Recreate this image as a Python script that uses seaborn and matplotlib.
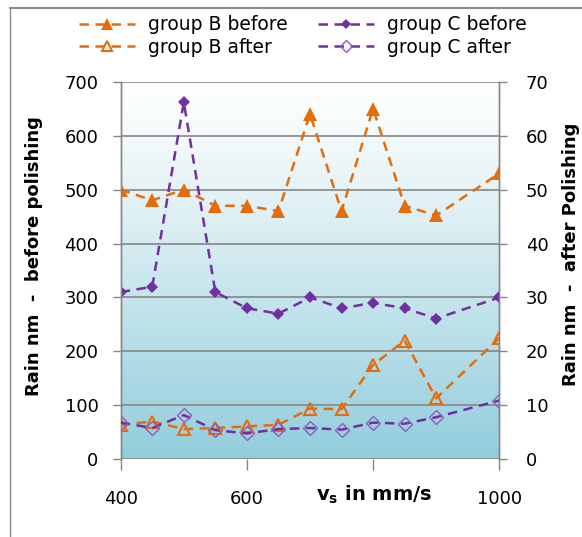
import numpy as np
import matplotlib
matplotlib.use("Agg")
import matplotlib.pyplot as plt
import seaborn as sns
from matplotlib.lines import Line2D
from matplotlib.colors import to_rgb

sns.set_style("white")
plt.rcParams['font.family'] = ['DejaVu Sans']
plt.rcParams['mathtext.fontset'] = 'dejavusans'
plt.rcParams['text.color'] = 'black'

# ---- data ----
vs = [400, 450, 500, 550, 600, 650, 700, 750, 800, 850, 900, 1000]
b_before = [500, 480, 500, 470, 470, 460, 640, 460, 650, 470, 452, 530]
c_before = [310, 320, 662, 310, 280, 270, 300, 280, 290, 280, 261, 300]
b_after = [6.4, 7.0, 5.6, 5.8, 6.1, 6.4, 9.4, 9.3, 17.5, 22.0, 11.3, 22.5]
c_after = [6.8, 5.8, 8.2, 5.4, 4.8, 5.6, 5.8, 5.5, 6.8, 6.6, 7.8, 10.9]
xticks = [400, 600, 800, 1000]
xtick_labels = ['400', '600', '', '1000']
yticks_left = [0, 100, 200, 300, 400, 500, 600, 700]
yticks_right = [0, 10, 20, 30, 40, 50, 60, 70]
labels = ['group B before', 'group B after', 'group C before', 'group C after']

orange = '#E46C0A'
purple = '#7030A0'
gridc = '#868686'

W, H = 582, 537
fig = plt.figure(figsize=(W / 100, H / 100), dpi=100)
L, R, T, B = 120.7, 499.3, 81.7, 459.3
ax = fig.add_axes([L / W, 1 - B / H, (R - L) / W, (B - T) / H])
ax2 = ax.twinx()

# background gradient
top = np.array(to_rgb('#FFFFFF'))
bot = np.array(to_rgb('#92CDDC'))
t = (np.linspace(0, 1, 256) ** 1.15)[:, None]
grad = (top * (1 - t) + bot * t)[:, None, :]
ax.imshow(grad, extent=[400, 1000, 0, 700], aspect='auto', zorder=0, interpolation='bilinear')

lw = 1.8
dash = (3.8, 2.6)
sns.lineplot(x=vs, y=b_before, ax=ax, color=orange, marker='^', markersize=10,
             markeredgewidth=0, linestyle='--', lw=lw, label=labels[0], zorder=3)
sns.lineplot(x=vs, y=c_before, ax=ax, color=purple, marker='D', markersize=6.5,
             markeredgewidth=0, linestyle='--', lw=lw, label=labels[2], zorder=3)
sns.lineplot(x=vs, y=b_after, ax=ax2, color=orange, marker='^', markersize=9,
             markerfacecolor='none', markeredgecolor=orange, markeredgewidth=1.5,
             linestyle='--', lw=lw, label=labels[1], zorder=3)
sns.lineplot(x=vs, y=c_after, ax=ax2, color=purple, marker='D', markersize=7.5,
             markerfacecolor='none', markeredgecolor='#8E5CC0', markeredgewidth=1.0,
             linestyle='--', lw=lw, label=labels[3], zorder=3)
for a in (ax, ax2):
    for ln in a.lines:
        ln.set_dashes(dash)
    if a.get_legend() is not None:
        a.get_legend().remove()

ax.set_xlim(400, 1000)
ax.set_ylim(0, 700)
ax2.set_ylim(0, 70)
ax.set_xticks(xticks)
ax.set_xticklabels(xtick_labels)
ax.set_yticks(yticks_left)
ax2.set_yticks(yticks_right)
ax.set_xlabel('')
ax.set_ylabel('')
ax2.set_ylabel('')

ax.set_axisbelow(True)
ax.yaxis.grid(True, color=gridc, lw=1.2)
ax.xaxis.grid(False)
ax2.grid(False)

for a in (ax, ax2):
    for s in ('top', 'bottom'):
        a.spines[s].set_visible(False)
    a.spines['left'].set_color(gridc)
    a.spines['right'].set_color(gridc)
    a.spines['left'].set_linewidth(1.0)
    a.spines['right'].set_linewidth(1.0)

ax.tick_params(axis='y', which='both', left=True, length=6, color=gridc, width=1.0,
               labelsize=13, pad=10, labelcolor='black')
ax.tick_params(axis='x', bottom=True, length=8, color=gridc, width=1.0,
               labelsize=13, pad=14, labelcolor='black')
ax2.tick_params(axis='y', right=True, length=6, color=gridc, width=1.0,
                labelsize=13, pad=13, labelcolor='black')

# axis titles
fig.text(34 / W, 1 - 256 / H, 'Rain nm  -  before polishing', rotation=90,
         ha='center', va='center', fontsize=13, fontweight='bold', color='black')
fig.text(571 / W, 1 - 254 / H, 'Rain nm  -  after Polishing', rotation=90,
         ha='center', va='center', fontsize=13, fontweight='bold', color='black')
fig.text(374 / W, 1 - 495 / H, r'$\mathbf{v}_\mathbf{s}$ in mm/s',
         ha='center', va='center', fontsize=14, fontweight='bold', color='black')

# legend
handles = [ax.lines[0], ax2.lines[0], ax.lines[1], ax2.lines[1]]
leg = fig.legend(handles, labels, ncol=2, loc='center', bbox_to_anchor=(303 / W, 1 - 36 / H),
                 frameon=False, fontsize=13.5, handlelength=3.0, handletextpad=0.7,
                 columnspacing=1.6, labelspacing=0.2, numpoints=1, markerscale=0.8)
for txt in leg.get_texts():
    txt.set_color('black')

# outer chart frame
fig.add_artist(Line2D([10 / W, 1], [1 - 8 / H, 1 - 8 / H], color='#8C8C8C', lw=1.5,
                      transform=fig.transFigure))
fig.add_artist(Line2D([10 / W, 10 / W], [0, 1 - 8 / H], color='#8C8C8C', lw=1.0,
                      transform=fig.transFigure))

fig.savefig('out.png', dpi=100)
